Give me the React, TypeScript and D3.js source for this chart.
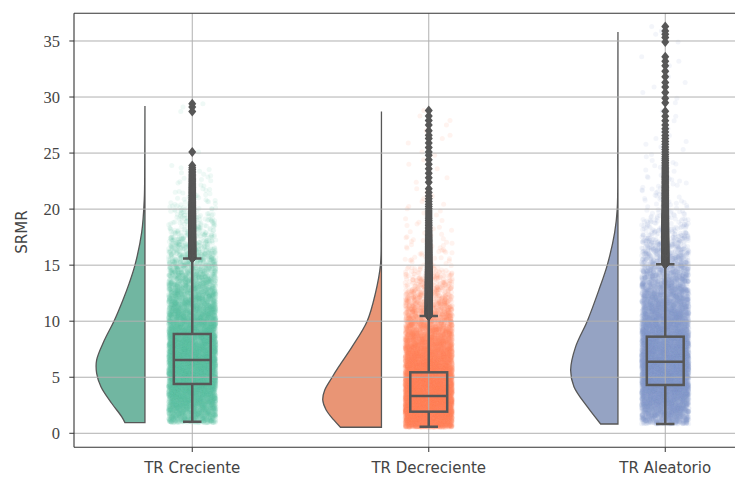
import React from 'react';
import * as d3 from 'd3';

const categories = ['TR Creciente', 'TR Decreciente', 'TR Aleatorio'];
const pointColors = ['#66c2a5', '#fc8d62', '#8da0cb'];
const violinColors = ['#71b6a1', '#e99575', '#95a3c3'];
const yTicks = [0, 5, 10, 15, 20, 25, 30, 35];

// box stats: [whisker low, q1, median, q3, whisker high]
const boxCreciente = [1.03, 4.4, 6.54, 8.86, 15.6];
const boxDecreciente = [0.59, 1.93, 3.33, 5.44, 10.46];
const boxAleatorio = [0.83, 4.31, 6.39, 8.62, 15.07];

// half-violin density profiles: [value, relative density]
const violinCreciente: [number, number][] = [
  [0.95, 20], [1.49, 23.3], [2.68, 33.3], [4.16, 44], [5.35, 48.3], [6.54, 48.3],
  [8.32, 40.5], [10, 31], [11.9, 22], [13.4, 15.7], [15, 10], [17.9, 3.3],
  [20.8, 0.7], [24, 0.2], [29.2, 0],
];
const violinDecreciente: [number, number][] = [
  [0.54, 41], [1.19, 47.7], [2.08, 55.3], [2.97, 58.7], [3.86, 56.7], [5, 49.3],
  [5.94, 42.7], [7.73, 29.3], [10, 14.3], [12.5, 6], [15, 1], [18, 0.3], [22, 0.1],
  [28.7, 0],
];
const violinAleatorio: [number, number][] = [
  [0.83, 17.3], [2.37, 30.7], [4.16, 44], [5.65, 47.3], [7.73, 42.3], [10, 30.7],
  [12.8, 19], [15, 10.7], [17.9, 3.3], [20, 0.7], [25, 0.2], [30, 0.05], [35.8, 0],
];

// upper end of the dense strip/flier band
const denseMax = [24, 22, 29];

// isolated high outliers
const outliersCreciente = [25.1, 28.7, 29.1, 29.4];
const outliersDecreciente = [
  22.4, 22.8, 23.2, 23.6, 24.0, 24.4, 24.8, 25.1, 25.5, 25.9, 26.3, 26.6, 27.0,
  27.5, 27.9, 28.3, 28.8,
];
const outliersAleatorio = [
  29.5, 29.9, 30.4, 30.9, 31.3, 31.8, 32.3, 32.8, 33.2, 33.6, 34.9, 35.3, 35.6, 35.9, 36.3,
];

const boxes = [boxCreciente, boxDecreciente, boxAleatorio];
const violins = [violinCreciente, violinDecreciente, violinAleatorio];
const outliers = [outliersCreciente, outliersDecreciente, outliersAleatorio];

const N_POINTS = 11000;

const W = 735;
const H = 478;

function hash(i: number, k: number) {
  const s = Math.sin(i * 127.1 + k * 311.7) * 43758.5453;
  return s - Math.floor(s);
}

function profileAt(profile: [number, number][], v: number) {
  for (let j = 0; j < profile.length - 1; j++) {
    const [a, da] = profile[j];
    const [b, db] = profile[j + 1];
    if (v >= a && v <= b) return da + ((v - a) / (b - a)) * (db - da);
  }
  return 0;
}

function samplePoints(profile: [number, number][], vmax: number, n: number) {
  const vmin = profile[0][0];
  const step = 0.01;
  const grid: number[] = [];
  const cdf: number[] = [];
  let acc = 0;
  for (let v = vmin; v <= vmax; v += step) {
    grid.push(v);
    acc += profileAt(profile, v) * step;
    cdf.push(acc);
  }
  const out: number[] = [];
  let j = 0;
  for (let i = 0; i < n; i++) {
    const q = ((i + 0.5) / n) * acc;
    while (j < cdf.length - 1 && cdf[j] < q) j++;
    out.push(grid[j]);
  }
  return out;
}

export default function App() {
  const left = 74;
  const top = 13.3;
  const bottom = 447.3;
  const right = 783.5;

  const x = d3.scaleLinear().domain([-0.5, 2.5]).range([left, right]);
  const y = d3.scaleLinear().domain([-1.25, 37.47]).range([bottom, top]);
  const unit = x(1) - x(0);
  const dens = d3.scaleLinear().domain([0, 60]).range([0, 0.2537 * unit]);

  const violinOffset = 0.2 * unit;
  const boxHalf = 0.078 * unit;
  const capHalf = 0.039 * unit;
  const jitterHalf = 0.1 * unit;
  const gray = '#575757';

  const groups = categories.map((c, gi) => {
    const cx = x(gi);
    const profile = violins[gi];
    const edge = cx - violinOffset;
    const area = d3
      .area<[number, number]>()
      .y((d) => y(d[0]))
      .x0(edge)
      .x1((d) => edge - dens(d[1]))
      .curve(d3.curveCatmullRom.alpha(0.5));
    const vals = samplePoints(profile, denseMax[gi], N_POINTS).concat(outliers[gi]);
    const pts = vals.map((v, i) => ({
      px: cx + (hash(i, gi + 1) * 2 - 1) * jitterHalf,
      py: y(v),
    }));
    const b = boxes[gi];
    const fliers = vals.filter((v) => v > b[4]);
    return { cx, area: area(profile) || '', pts, b, fliers };
  });

  const diamond = (cx: number, cy: number) =>
    `M${cx},${cy - 5} L${cx + 4},${cy} L${cx},${cy + 5} L${cx - 4},${cy} Z`;

  return (
    <svg width={W} height={H} style={{ position: 'absolute', left: 0, top: 0, background: '#fff' }}>
      <defs>
        <clipPath id="plotclip">
          <rect x={left} y={top} width={right - left} height={bottom - top} />
        </clipPath>
      </defs>
      <rect x={0} y={0} width={W} height={H} fill="#fff" />
      <g clipPath="url(#plotclip)">
        {groups.map((g, gi) => (
          <path key={'v' + gi} d={g.area} fill={violinColors[gi]} stroke={gray} strokeWidth={1.3} />
        ))}
        {groups.map((g, gi) => (
          <g key={'p' + gi} fill={pointColors[gi]} fillOpacity={0.1}>
            {g.pts.map((p, i) => (
              <circle key={i} cx={p.px} cy={p.py} r={2.5} />
            ))}
          </g>
        ))}
        {yTicks.map((t) => (
          <line key={'gy' + t} x1={left} x2={right} y1={y(t)} y2={y(t)} stroke="#b0b0b0" strokeWidth={1} />
        ))}
        {categories.map((c, i) => (
          <line key={'gx' + i} x1={x(i)} x2={x(i)} y1={top} y2={bottom} stroke="#b0b0b0" strokeWidth={1} />
        ))}
        {groups.map((g, gi) => (
          <g key={'b' + gi} stroke={gray} strokeWidth={2.5} fill="none">
            <line x1={g.cx} x2={g.cx} y1={y(g.b[0])} y2={y(g.b[1])} />
            <line x1={g.cx} x2={g.cx} y1={y(g.b[3])} y2={y(g.b[4])} />
            <line x1={g.cx - capHalf} x2={g.cx + capHalf} y1={y(g.b[0])} y2={y(g.b[0])} />
            <line x1={g.cx - capHalf} x2={g.cx + capHalf} y1={y(g.b[4])} y2={y(g.b[4])} />
            <rect x={g.cx - boxHalf} y={y(g.b[3])} width={2 * boxHalf} height={y(g.b[1]) - y(g.b[3])} />
            <line x1={g.cx - boxHalf} x2={g.cx + boxHalf} y1={y(g.b[2])} y2={y(g.b[2])} />
            <g fill={gray} stroke="none">
              {g.fliers.map((v, i) => (
                <path key={i} d={diamond(g.cx, y(v))} />
              ))}
            </g>
          </g>
        ))}
      </g>
      <g stroke="#333" strokeWidth={1.1} fill="none">
        <line x1={left} x2={left} y1={top} y2={bottom} />
        <line x1={left} x2={W} y1={bottom} y2={bottom} />
        <line x1={left} x2={W} y1={top} y2={top} />
      </g>
      {yTicks.map((t) => (
        <g key={'ty' + t}>
          <line x1={left - 4.7} x2={left} y1={y(t)} y2={y(t)} stroke="#333" strokeWidth={1} />
          <text
            x={60}
            y={y(t)}
            dy="0.35em"
            textAnchor="end"
            fontFamily="'Liberation Serif', serif"
            fontSize={16.5}
            fill="#444"
          >
            {t}
          </text>
        </g>
      ))}
      {categories.map((c, i) => (
        <g key={'tx' + i}>
          <line x1={x(i)} x2={x(i)} y1={bottom} y2={bottom + 4.7} stroke="#333" strokeWidth={1} />
          <text
            x={x(i)}
            y={473}
            textAnchor="middle"
            fontFamily="'DejaVu Sans', sans-serif"
            fontSize={15}
            fill="#444"
          >
            {c}
          </text>
        </g>
      ))}
      <text
        transform={`translate(22,232) rotate(-90)`}
        textAnchor="middle"
        dy="0.35em"
        fontFamily="'DejaVu Sans', sans-serif"
        fontSize={15}
        fill="#444"
      >
        SRMR
      </text>
    </svg>
  );
}
